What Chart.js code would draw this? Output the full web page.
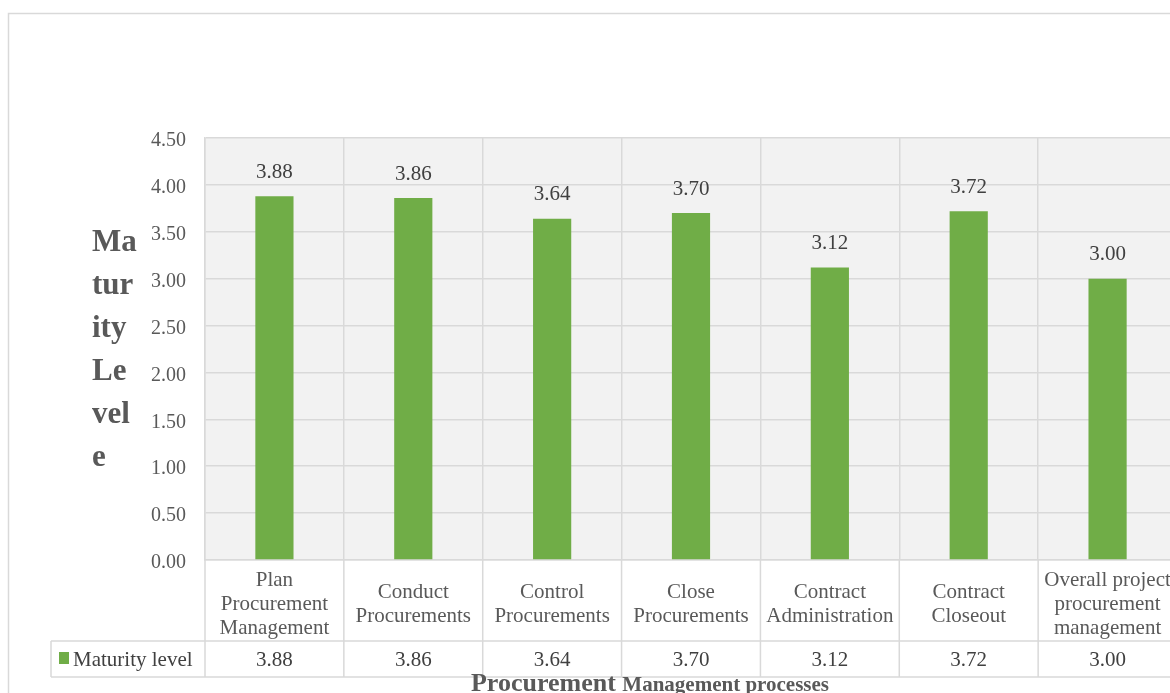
<!DOCTYPE html>
<html>
<head>
<meta charset="utf-8">
<script src="https://cdn.jsdelivr.net/npm/chart.js@4"></script>
<style>
  html, body { margin: 0; padding: 0; background: #fff; overflow: hidden; }
  #wrap { position: relative; width: 1180px; height: 693px; }
</style>
</head>
<body>
<div id="wrap"><canvas id="maturity-chart" width="1180" height="693"></canvas></div>
<script>
// categories (multi-line labels) and values
var processes = [
  ["Plan", "Procurement", "Management"],
  ["Conduct", "Procurements"],
  ["Control", "Procurements"],
  ["Close", "Procurements"],
  ["Contract", "Administration"],
  ["Contract", "Closeout"],
  ["Overall project", "procurement", "management"]
];
var maturity = [3.88, 3.86, 3.64, 3.70, 3.12, 3.72, 3.00];
var seriesName = "Maturity level";
var yMax = 4.5;
var yStep = 0.5;
var yTitleLines = ["Ma", "tur", "ity", "Le", "vel", "e"];
var xTitleMain = "Procurement";
var xTitleRest = "Management processes";

var SERIF = "'Liberation Serif', 'Times New Roman', serif";
var GRID = "#d9d9d9";
var BAR = "#70ad47";

// table row under the axis labels
var TABLE_TOP = 641;
var TABLE_BOTTOM = 677;
var TABLE_LEFT = 51;

/**
背景・データ表・タイトルを描く
*/
var excelFrame = {
  id: 'excelFrame',
  beforeDraw: function (chart) {
    var ctx = chart.ctx, a = chart.chartArea;
    ctx.save();
    ctx.fillStyle = "#fff";
    ctx.fillRect(0, 0, chart.width, chart.height);
    ctx.strokeStyle = GRID;
    ctx.lineWidth = 1.5;
    ctx.strokeRect(8.5, 13.5, 3000, 3000);
    ctx.fillStyle = "#f2f2f2";
    ctx.fillRect(a.left, a.top, a.right - a.left, a.bottom - a.top);
    ctx.restore();
  },
  afterDraw: function (chart) {
    var ctx = chart.ctx, a = chart.chartArea;
    var xs = chart.scales.x;
    var step = xs.getPixelForValue(1) - xs.getPixelForValue(0);
    var meta = chart.getDatasetMeta(0);
    ctx.save();

    // value labels above bars
    ctx.font = "21px " + SERIF;
    ctx.fillStyle = "#404040";
    ctx.textAlign = "center";
    ctx.textBaseline = "middle";
    meta.data.forEach(function (bar, i) {
      ctx.fillText(maturity[i].toFixed(2), bar.x, bar.y - 24);
    });

    // data table lines
    ctx.strokeStyle = GRID;
    ctx.lineWidth = 1.5;
    ctx.beginPath();
    for (var i = 0; i <= maturity.length; i++) {
      var x = xs.getPixelForValue(i) - step / 2;
      ctx.moveTo(x, a.bottom);
      ctx.lineTo(x, TABLE_BOTTOM);
    }
    ctx.moveTo(TABLE_LEFT, TABLE_TOP);
    ctx.lineTo(chart.width, TABLE_TOP);
    ctx.moveTo(TABLE_LEFT, TABLE_BOTTOM);
    ctx.lineTo(chart.width, TABLE_BOTTOM);
    ctx.moveTo(TABLE_LEFT, TABLE_TOP);
    ctx.lineTo(TABLE_LEFT, TABLE_BOTTOM);
    ctx.stroke();

    // table values
    var rowMid = (TABLE_TOP + TABLE_BOTTOM) / 2 + 1;
    ctx.fillStyle = "#404040";
    maturity.forEach(function (v, i) {
      ctx.fillText(v.toFixed(2), xs.getPixelForValue(i), rowMid);
    });

    // legend key
    ctx.fillStyle = BAR;
    ctx.fillRect(59, 652, 10, 12);
    ctx.fillStyle = "#404040";
    ctx.textAlign = "left";
    ctx.fillText(seriesName, 73, rowMid);

    // y title
    ctx.font = "bold 31px " + SERIF;
    ctx.fillStyle = "#595959";
    ctx.textBaseline = "alphabetic";
    yTitleLines.forEach(function (s, i) {
      ctx.fillText(s, 92, 251 + i * 43);
    });

    // x title, two sizes on one baseline
    ctx.font = "bold 26px " + SERIF;
    var w1 = ctx.measureText(xTitleMain + " ").width;
    ctx.font = "bold 21px " + SERIF;
    var w2 = ctx.measureText(xTitleRest).width;
    var x0 = 650 - (w1 + w2) / 2;
    ctx.font = "bold 26px " + SERIF;
    ctx.fillText(xTitleMain, x0, 691);
    ctx.font = "bold 21px " + SERIF;
    ctx.fillText(xTitleRest, x0 + w1, 691);

    ctx.restore();
  }
};

var config = {
  type: 'bar',
  data: {
    labels: processes,
    datasets: [{
      label: seriesName,
      data: maturity,
      backgroundColor: BAR,
      barPercentage: 0.275,
      categoryPercentage: 1.0
    }]
  },
  options: {
    responsive: false,
    animation: false,
    layout: { padding: { top: 138, right: 3, left: 0, bottom: 0 } },
    plugins: {
      legend: { display: false },
      tooltip: { enabled: false }
    },
    scales: {
      x: {
        grid: { display: true, offset: true, color: GRID, lineWidth: 1.5, drawTicks: false },
        border: { color: GRID, width: 1.5 },
        ticks: {
          color: "#595959",
          font: { family: SERIF, size: 21, lineHeight: 1.15 },
          padding: 20,
          maxRotation: 0,
          autoSkip: false,
          crossAlign: 'center'
        },
        afterFit: function (scale) {
          scale.height = 133;
          scale.paddingLeft = 0;
          scale.paddingRight = 0;
        }
      },
      y: {
        min: 0,
        max: yMax,
        grid: { color: GRID, lineWidth: 1.5, drawTicks: false },
        border: { color: GRID, width: 1.5 },
        ticks: {
          stepSize: yStep,
          color: "#595959",
          font: { family: SERIF, size: 20 },
          padding: 19,
          labelOffset: 3,
          callback: function (v) { return v.toFixed(2); }
        },
        afterFit: function (scale) { scale.width = 205; }
      }
    }
  },
  plugins: [excelFrame]
};

var ctx = document.getElementById("maturity-chart").getContext("2d");
window.maturityChart = new Chart(ctx, config);
</script>
</body>
</html>
